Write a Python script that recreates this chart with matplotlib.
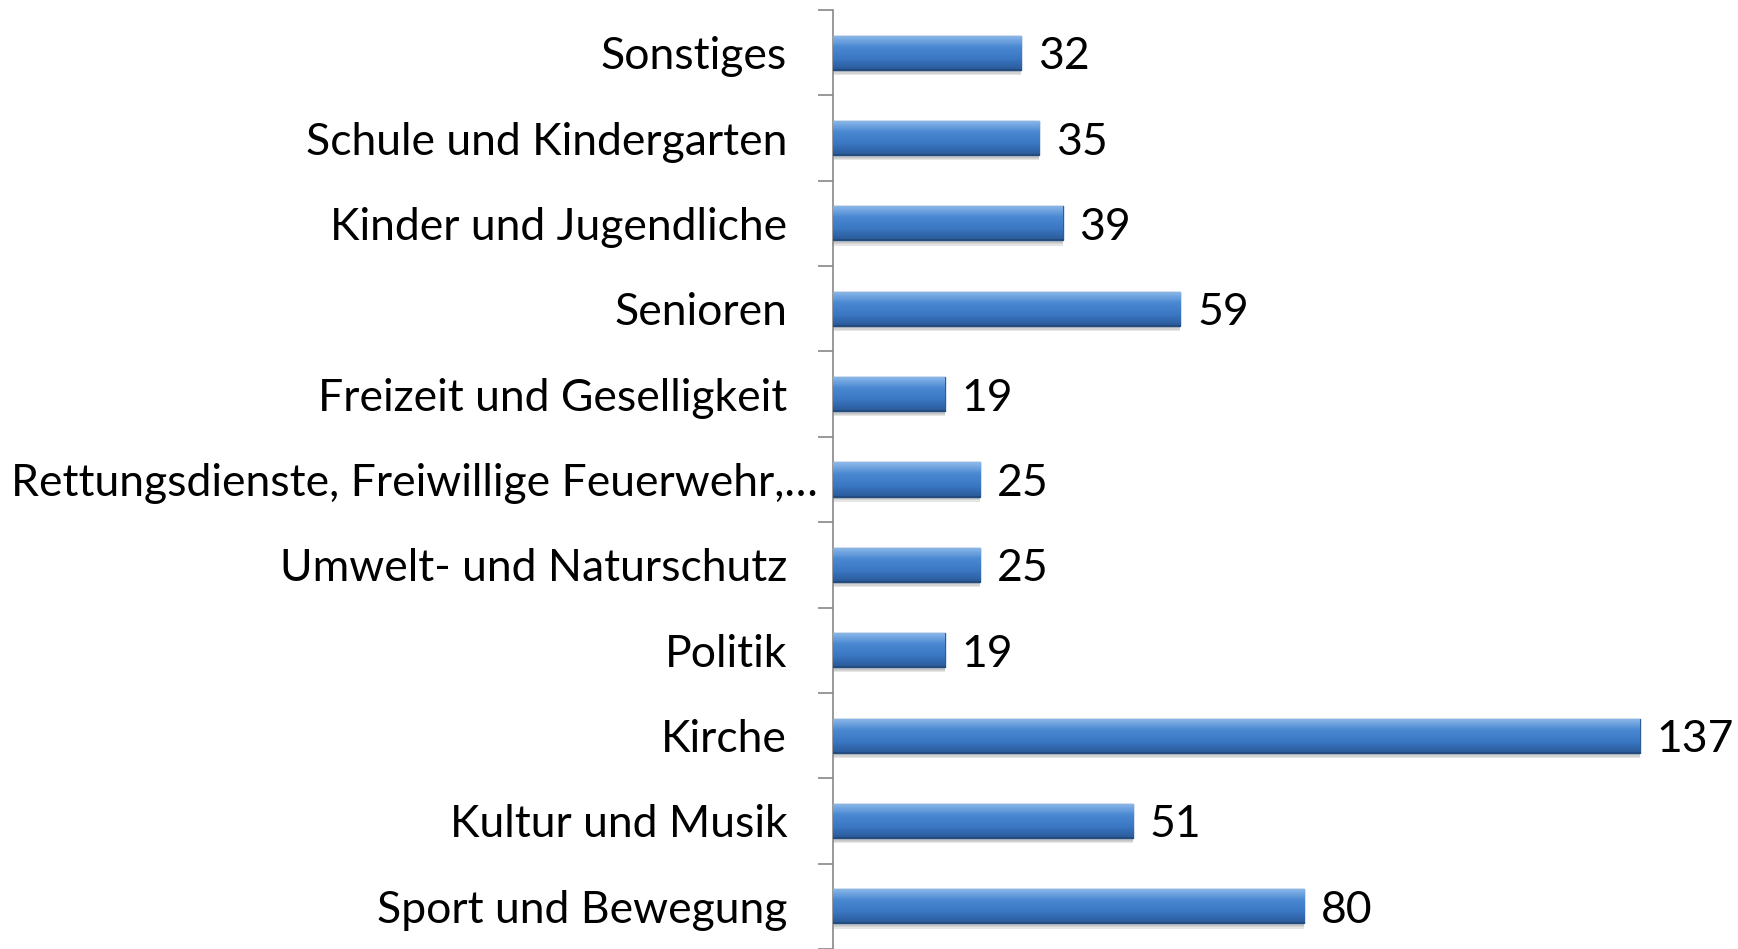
import numpy as np
import matplotlib
matplotlib.use("Agg")
import matplotlib.pyplot as plt
from matplotlib.transforms import ScaledTranslation
from matplotlib.colors import LinearSegmentedColormap

plt.rcParams['font.family'] = ['Lato', 'DejaVu Sans']

# Daten (von unten nach oben)
kategorien = ["Sport und Bewegung", "Kultur und Musik", "Kirche", "Politik",
              "Umwelt- und Naturschutz", "Rettungsdienste, Freiwillige Feuerwehr,…",
              "Freizeit und Geselligkeit", "Senioren", "Kinder und Jugendliche",
              "Schule und Kindergarten", "Sonstiges"]
werte = [80, 51, 137, 19, 25, 25, 19, 59, 39, 35, 32]

fig = plt.figure(figsize=(17.38, 9.49), dpi=100)
ax = fig.add_axes([833 / 1738, 0.0, 1 - 833 / 1738, 1 - 10 / 949])

y = np.arange(len(kategorien))
h = 0.4

# Schatten
for k, a in zip([0.06, 0.045, 0.03], [0.10, 0.08, 0.06]):
    ax.barh(y - k, werte, height=h, left=0, color="black", alpha=a, lw=0, zorder=1)

bars = ax.barh(y, werte, height=h, color="#3d7cc9", edgecolor="#2c5d9a", lw=1, zorder=2)

# Farbverlauf
cmap = LinearSegmentedColormap.from_list("b", ["#2a5a98", "#3b78c4", "#4a88d2", "#8fbaea"])
gy = np.linspace(0, 1, 64).reshape(-1, 1)
for b in bars:
    x0, y0, w, hh = b.get_x(), b.get_y(), b.get_width(), b.get_height()
    im = ax.imshow(gy, cmap=cmap, extent=[x0, x0 + w, y0, y0 + hh], origin="lower",
                   aspect="auto", zorder=3, interpolation="bilinear")
    im.set_clip_path(b)
    ax.plot([x0, x0 + w], [y0, y0], color="#22497a", lw=1.2, zorder=4)

for yi, v in zip(y, werte):
    ax.annotate(str(v), (v, yi), xytext=(12, 0), textcoords="offset points",
                va="center_baseline", ha="left", fontsize=32, color="black")

ax.set_xlim(0, 153.7)
ax.set_ylim(-0.5, len(kategorien) - 0.5)
ax.set_yticks(y)
ax.set_yticklabels(kategorien, fontsize=32, va="center_baseline")
ax.tick_params(axis="y", which="major", length=0, pad=33)
ax.set_yticks(np.arange(-0.5, len(kategorien), 1), minor=True)
ax.tick_params(axis="y", which="minor", length=11, width=1.2, color="#888888")
ax.set_xticks([])
for s in ["top", "right", "bottom"]:
    ax.spines[s].set_visible(False)
ax.spines["left"].set_color("#888888")
ax.spines["left"].set_linewidth(1.2)

lbl = ax.get_yticklabels()[5]
lbl.set_transform(lbl.get_transform() + ScaledTranslation(0.31, 0, fig.dpi_scale_trans))

fig.savefig("out.png", dpi=100)
